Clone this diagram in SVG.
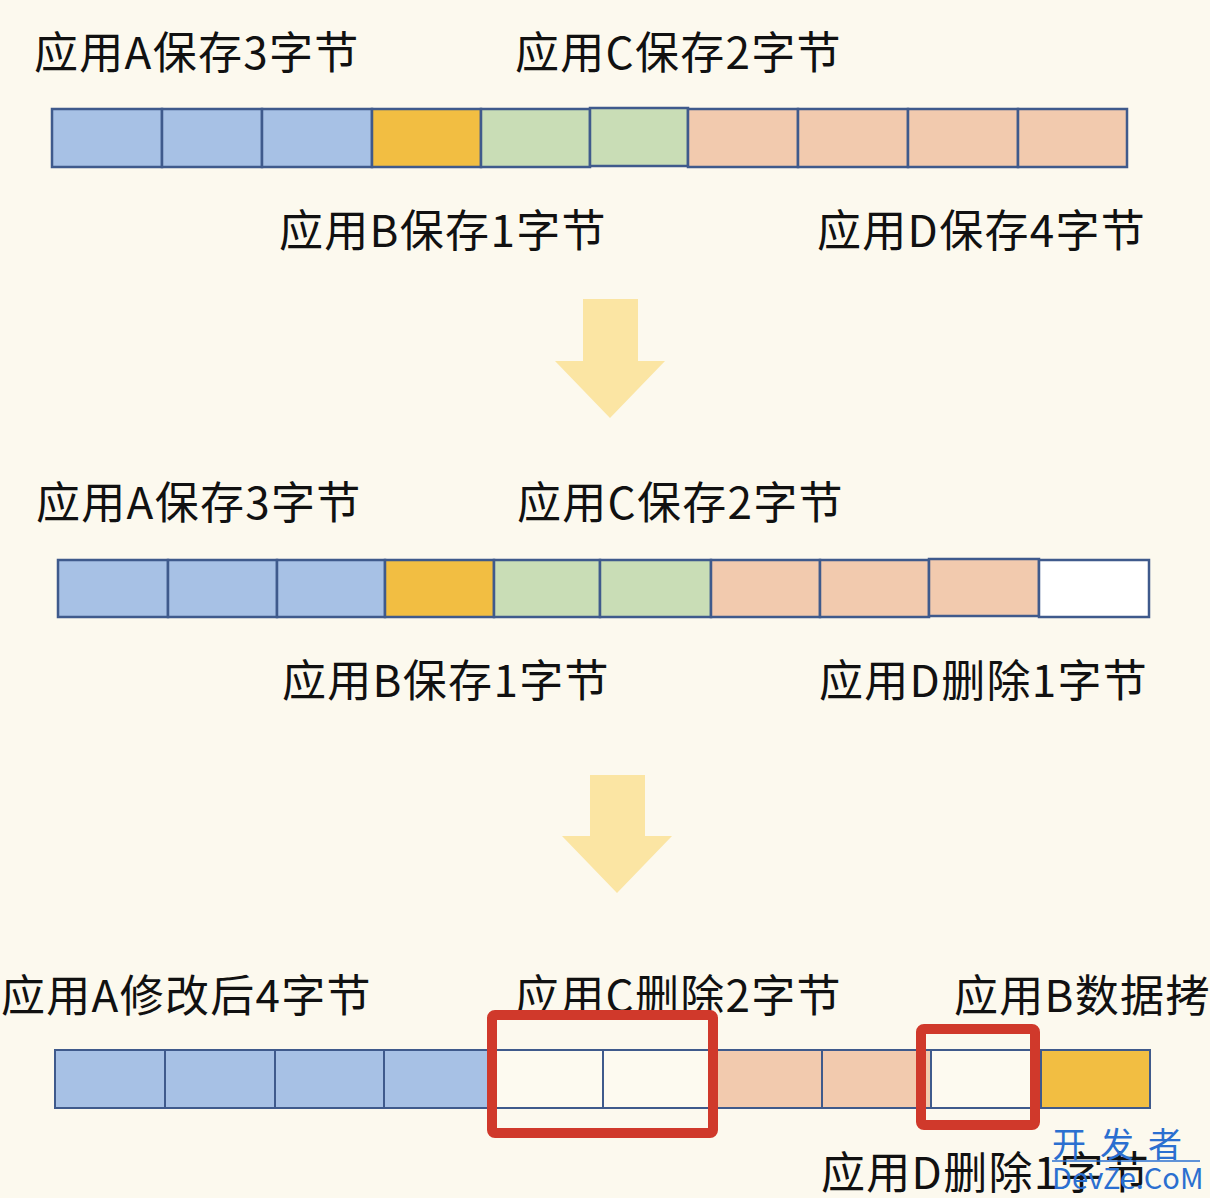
<svg xmlns="http://www.w3.org/2000/svg" width="1210" height="1198" viewBox="0 0 1210 1198">
<style>
.t{font-family:"Noto Sans CJK SC","Noto Sans",sans-serif;font-size:44px;letter-spacing:1.3px;fill:#111}
.c{stroke:#3f5a8c;stroke-width:2.5}
.b{fill:#a7c1e5}.y{fill:#f2be42}.g{fill:#c9ddb6}.p{fill:#f2caae}.w{fill:#ffffff}.e{fill:#fdfaf0}
.arr{fill:#fbe5a3}
.red{fill:none;stroke:#d0392b;stroke-width:10}
.wm{font-family:"Noto Sans CJK SC","Liberation Sans",sans-serif;fill:#2b6fd0}
</style>
<rect width="1210" height="1198" fill="#fcf9ee"/>
<g id="row1">
<rect class="c b" x="52" y="109" width="110" height="58"/>
<rect class="c b" x="162" y="109" width="100" height="58"/>
<rect class="c b" x="262" y="109" width="110" height="58"/>
<rect class="c y" x="372" y="109" width="109" height="58"/>
<rect class="c g" x="481" y="109" width="109" height="58"/>
<rect class="c g" x="590" y="108" width="98" height="58"/>
<rect class="c p" x="688" y="109" width="110" height="58"/>
<rect class="c p" x="798" y="109" width="110" height="58"/>
<rect class="c p" x="908" y="109" width="110" height="58"/>
<rect class="c p" x="1018" y="109" width="109" height="58"/>
</g>
<g id="labels1">
<text class="t" x="34" y="69">应用A保存3字节</text>
<text class="t" x="515" y="69">应用C保存2字节</text>
<text class="t" x="279" y="247">应用B保存1字节</text>
<text class="t" x="817" y="247">应用D保存4字节</text>
</g>
<g id="connectors">
<path class="arr" d="M583 299H638V361H665L610 418L555 361H583Z"/>
<path class="arr" d="M590 775H645V836H672L617 893L562 836H590Z"/>
</g>
<g id="row2">
<rect class="c b" x="58" y="560" width="110" height="57"/>
<rect class="c b" x="168" y="560" width="109" height="57"/>
<rect class="c b" x="277" y="560" width="108" height="57"/>
<rect class="c y" x="385" y="560" width="109" height="57"/>
<rect class="c g" x="494" y="560" width="106" height="57"/>
<rect class="c g" x="600" y="560" width="111" height="57"/>
<rect class="c p" x="711" y="560" width="109" height="57"/>
<rect class="c p" x="820" y="560" width="109" height="57"/>
<rect class="c p" x="929" y="559" width="110" height="57"/>
<rect class="c w" x="1039" y="560" width="110" height="57"/>
</g>
<g id="labels2">
<text class="t" x="36" y="519">应用A保存3字节</text>
<text class="t" x="517" y="519">应用C保存2字节</text>
<text class="t" x="282" y="697">应用B保存1字节</text>
<text class="t" x="819" y="697">应用D删除1字节</text>
</g>
<g id="labels3">
<text class="t" x="1" y="1012">应用A修改后4字节</text>
<text class="t" x="515" y="1012">应用C删除2字节</text>
<text class="t" x="954" y="1012">应用B数据拷</text>
<text class="t" x="821" y="1189">应用D删除1字节</text>
</g>
<g id="row3">
<rect class="c b" x="55" y="1050" width="110" height="58" style="stroke-width:2"/>
<rect class="c b" x="165" y="1050" width="110" height="58" style="stroke-width:2"/>
<rect class="c b" x="275" y="1050" width="109" height="58" style="stroke-width:2"/>
<rect class="c b" x="384" y="1050" width="110" height="58" style="stroke-width:2"/>
<rect class="c e" x="494" y="1050" width="109" height="58" style="stroke-width:2"/>
<rect class="c e" x="603" y="1050" width="110" height="58" style="stroke-width:2"/>
<rect class="c p" x="713" y="1050" width="109" height="58" style="stroke-width:2"/>
<rect class="c p" x="822" y="1050" width="109" height="58" style="stroke-width:2"/>
<rect class="c e" x="931" y="1050" width="110" height="58" style="stroke-width:2"/>
<rect class="c y" x="1041" y="1050" width="109" height="58" style="stroke-width:2"/>
</g>
<g id="highlights">
<rect class="red" x="492" y="1015" width="221" height="118" rx="3"/>
<rect class="red" x="921" y="1029" width="114" height="96" rx="3"/>
</g>
<g id="watermark">
<text class="wm" x="1052" y="1157" font-size="34" letter-spacing="14">开发者</text>
<line x1="1052" y1="1161" x2="1200" y2="1161" stroke="#2b6fd0" stroke-width="1.5"/>
<text class="wm" x="1052" y="1189" font-size="29">DevZe.CoM</text>
</g>
</svg>
